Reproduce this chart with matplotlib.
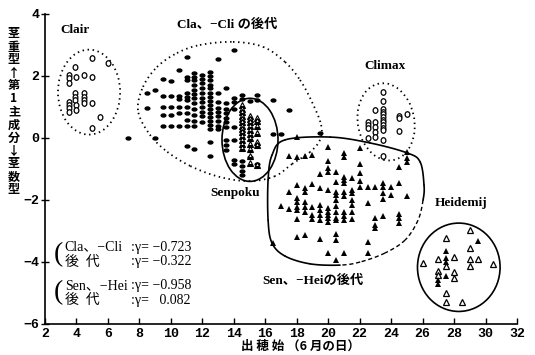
import numpy as np
import matplotlib.pyplot as plt
from matplotlib.patches import Ellipse
from matplotlib.path import Path
from matplotlib.transforms import Affine2D

plt.rcParams['font.family'] = ['Liberation Serif', 'Noto Sans CJK JP', 'DejaVu Sans']
CJK = ['Noto Sans CJK JP', 'DejaVu Sans']

# ---- data (x: heading date in June, y: PC1 score) ----
clair_x = [5.0, 6.0, 3.9, 3.5, 3.5, 4.0, 4.5, 5.0, 3.5, 3.9, 3.9, 3.9, 4.5, 4.5, 4.5,
           4.5, 3.5, 3.5, 3.5, 3.5, 4.0, 4.0, 5.0, 5.5, 5.0]
clair_y = [2.57, 2.41, 2.3, 2.03, 1.94, 1.98, 2.03, 1.98, 1.76, 1.44, 1.33, 1.23, 1.44, 1.33, 1.23,
           1.13, 1.17, 1.06, 0.96, 0.85, 1.06, 0.9, 1.14, 0.69, 0.31]

climax_x = [22.5] * 4 + [23.0] * 5 + [23.5] * 13 + [24.5] * 3 + [25.0]
climax_y = [0.51, 0.42, 0.33, -0.01,
            0.91, 0.53, 0.36, 0.2, 0.04,
            1.47, 1.19, 0.94, 0.85, 0.76, 0.68, 0.59, 0.51, 0.42, 0.33, 0.25, -0.08, -0.57,
            0.72, 0.64, 0.23,
            0.76]

senpoku_x = [14.5] * 13 + [15.0] * 11 + [15.5] * 7
senpoku_y = [1.05, 0.95, 0.85, 0.72, 0.6, 0.5, 0.4, 0.28, 0.18, 0.05, -0.08, -0.2, -0.32,
             0.72, 0.6, 0.5, 0.38, 0.25, 0.12, 0.0, -0.2, -0.36, -0.58, -0.8,
             0.65, 0.55, 0.4, 0.15, -0.12, -0.22, -0.88]

clacli_cols = [7.3, 8.5, 9.0, 9.5, 10.0, 10.5, 11.0, 11.5, 12.0, 12.5, 13.0, 13.5,
               14.0, 14.5, 15.0, 15.5, 16.5, 17.0, 17.5, 19.5]
clacli_vals = [
    [0.0],
    [1.45, 0.97],
    [1.55, 0.0],
    [1.9, 1.35, 0.99, 0.74, 0.38],
    [1.85, 1.35, 0.99, 0.74, 0.38],
    [2.2, 1.35, 1.25, 0.99, 0.8, 0.38],
    [2.62, 1.98, 1.87, 1.44, 1.33, 1.23, 1.01, 0.8, 0.58, 0.38, -0.26],
    [2.09, 1.98, 1.87, 1.7, 1.55, 1.42, 1.3, 1.12, 0.92, 0.75, 0.55, 0.38, -0.37],
    [2.02, 1.9, 1.78, 1.6, 1.45, 1.3, 1.15, 1.0, 0.85, 0.7, 0.5],
    [2.12, 2.0, 1.87, 1.72, 1.6, 1.45, 1.32, 1.2, 1.05, 0.95, 0.8, 0.68, 0.55, 0.42, 0.3, -0.12, -0.58],
    [2.55, 1.45, 1.15, 0.98, 0.85, 0.7, 0.55, 0.4, 0.28],
    [1.62, 1.12, 0.95, 0.8, 0.65, 0.5, 0.35, -0.06, -0.23, -0.39],
    [2.84, 1.3, 1.15, 0.95, 0.35, -0.05, -0.7, -0.85],
    [1.4, 1.25, -0.75, -0.9, -1.05, -1.18],
    [1.2, -0.62],
    [1.38, 1.22, -0.85],
    [1.22, 0.12],
    [0.12],
    [0.9],
    [0.15],
]

senhei_x = [18.0, 20.0, 22.0, 17.5, 18.0, 18.5, 19.0, 21.0, 21.0, 20.0, 22.0, 24.5, 25.0, 25.0, 25.0,
            20.0, 20.0, 20.5, 19.5, 21.0, 21.0, 21.0, 21.5, 22.0, 22.0, 20.5, 17.5, 18.0, 18.5, 18.5,
            19.0, 19.5, 20.0, 20.5, 20.5, 21.0, 21.0, 21.5, 21.5, 22.0, 22.5, 23.0, 23.5, 23.5, 23.5,
            23.5, 24.0, 24.0, 24.5, 25.0, 17.0, 17.5, 18.0, 18.0, 18.0, 18.0, 18.0, 18.5, 18.5, 18.5,
            19.0, 19.0, 19.0, 19.5, 19.5, 19.5, 19.5, 20.0, 20.0, 20.0, 20.0, 20.0, 20.5, 20.5, 20.5,
            20.5, 20.5, 21.0, 21.0, 21.0, 21.5, 21.5, 21.5, 21.5, 22.5, 23.0, 23.5, 23.0, 23.0, 24.5,
            24.5, 24.5, 16.5, 18.0, 18.5, 19.5, 20.5, 20.5, 22.5, 20.0, 21.0, 22.5, 20.5]
senhei_y = [0.02, -0.3, -0.33, -0.58, -0.62, -0.58, -0.55, -0.49, -0.62, -0.73, -0.84, -0.95, -0.44, -0.65, -0.76,
            -0.98, -1.09, -1.09, -1.16, -1.25, -1.35, -1.46, -1.3, -1.12, -1.4, -1.43, -1.73, -1.52, -1.62, -1.73,
            -1.48, -1.62, -1.68, -1.73, -1.84, -1.75, -1.86, -1.68, -1.78, -1.59, -1.57, -1.57, -1.46, -1.59, -1.78,
            -1.98, -1.59, -1.84, -1.46, -1.87, -2.19, -2.3, -1.95, -2.05, -2.22, -2.32, -2.62, -2.05, -2.22, -2.38,
            -2.22, -2.48, -2.62, -2.15, -2.32, -2.48, -2.65, -2.27, -2.38, -2.48, -2.59, -2.7, -2.0, -2.2, -2.38,
            -2.59, -2.66, -2.38, -2.52, -2.65, -2.0, -2.17, -2.38, -2.62, -2.09, -2.59, -2.52, -2.81, -2.91, -2.45,
            -2.59, -2.73, -3.38, -3.18, -3.12, -3.27, -3.1, -3.29, -3.36, -3.7, -3.7, -3.7, -3.92]

heid_open_x = [29.0, 27.5, 29.0, 26.0, 27.0, 28.0, 29.0, 29.0, 29.5, 30.5, 27.5, 27.0, 27.0, 28.0,
               28.0, 27.5, 27.5, 28.5]
heid_open_y = [-2.97, -3.22, -3.56, -4.04, -3.9, -3.83, -3.9, -4.12, -3.9, -4.07, -4.12, -4.29, -4.42, -4.31,
               -4.53, -5.01, -5.3, -5.3]
heid_fill_x = [29.5, 27.5, 27.5, 27.5, 27.0, 27.0, 27.5]
heid_fill_y = [-3.32, -3.65, -3.86, -3.99, -4.58, -4.72, -4.44]

# group outlines
clacli_hull_x = [7.91, 8.23, 9.12, 10.39, 11.85, 13.95, 15.86, 17.26, 18.21, 18.97, 19.55, 19.48,
                 18.85, 17.7, 16.62, 15.03, 13.13, 11.22, 9.63, 8.55]
clacli_hull_y = [0.9, 1.65, 2.29, 2.74, 3.0, 3.1, 2.94, 2.45, 1.87, 1.16, 0.42, -0.06,
                 -0.45, -0.84, -1.23, -1.39, -1.26, -0.9, -0.39, 0.19]
senhei_hull_x = [17.26, 20.12, 22.66, 25.01, 25.84, 26.09, 26.03, 25.71, 24.89, 23.61, 22.03,
                 20.75, 18.85, 17.26, 16.43, 16.18, 16.18, 16.43]
senhei_hull_y = [-0.06, 0.03, -0.16, -0.48, -0.77, -1.52, -2.0, -2.65, -3.29, -3.71, -4.0,
                 -4.1, -4.06, -3.81, -3.39, -2.65, -1.35, -0.55]
senhei_dashed = [6, 7, 8, 9, 10]

x_ticks = list(range(2, 33, 2))
y_ticks = [-6, -4, -2, 0, 2, 4]


def catmull_closed(xs, ys, n=24):
    pts = np.column_stack([xs, ys])
    m = len(pts)
    t = np.linspace(0, 1, n)[:, None]
    segs = []
    for i in range(m):
        p0, p1, p2, p3 = pts[i - 1], pts[i], pts[(i + 1) % m], pts[(i + 2) % m]
        seg = 0.5 * (2 * p1 + (-p0 + p2) * t + (2 * p0 - 5 * p1 + 4 * p2 - p3) * t ** 2
                     + (-p0 + 3 * p1 - 3 * p2 + p3) * t ** 3)
        segs.append(seg)
    return segs


oval = Path.unit_circle().transformed(Affine2D().scale(1.0, 0.72))
tall_oval = Path.unit_circle().transformed(Affine2D().scale(0.85, 1.0))

fig = plt.figure(figsize=(5.35, 3.55), dpi=100)
ax = fig.add_axes([45 / 535, 1 - 324 / 355, 472 / 535, 310 / 355])
ax.set_xlim(2, 32)
ax.set_ylim(-6, 4)
for side in ['top', 'right']:
    ax.spines[side].set_visible(False)
for side in ['left', 'bottom']:
    ax.spines[side].set_linewidth(1.2)
ax.set_xticks(x_ticks)
ax.set_yticks(y_ticks)
ax.tick_params(axis='y', direction='inout', length=6, width=1, pad=1)
ax.tick_params(axis='x', direction='in', length=4, width=1, pad=3)
for lab in ax.get_xticklabels() + ax.get_yticklabels():
    lab.set_family('Liberation Mono')
    lab.set_fontsize(9.5)
    lab.set_fontweight('bold')

dotted = dict(color='black', lw=1.3, linestyle=(0, (0.8, 2.0)))

# outlines
ax.add_patch(Ellipse((4.8, 1.48), 3.95, 2.74, fill=False, **dotted))
ax.add_patch(Ellipse((23.68, 0.52), 3.66, 2.47, angle=-8, fill=False, **dotted))
ax.add_patch(Ellipse((15.03, -0.06), 3.56, 2.68, fill=False, color='black', lw=1.2))
ax.add_patch(Ellipse((28.3, -4.17), 5.25, 2.85, fill=False, color='black', lw=1.2))

for seg in catmull_closed(clacli_hull_x, clacli_hull_y):
    ax.plot(seg[:, 0], seg[:, 1], **dotted)

segs = catmull_closed(senhei_hull_x, senhei_hull_y)
for i, seg in enumerate(segs):
    if i in senhei_dashed:
        ax.plot(seg[:, 0], seg[:, 1], color='black', lw=1.0, linestyle=(0, (3, 2)))
    else:
        ax.plot(seg[:, 0], seg[:, 1], color='black', lw=1.2, solid_capstyle='round')

# points
clacli_x = [c for c, v in zip(clacli_cols, clacli_vals) for _ in v]
clacli_y = [y for v in clacli_vals for y in v]
ax.plot(clacli_x, clacli_y, linestyle='none', marker=oval, color='black', ms=4.4, mew=0)
ax.plot(clair_x, clair_y, linestyle='none', marker=tall_oval, mfc='white', mec='black',
        ms=4.0, mew=0.9)
ax.plot(climax_x, climax_y, linestyle='none', marker=tall_oval, mfc='white', mec='black',
        ms=4.0, mew=0.9)
ax.plot(senpoku_x, senpoku_y, '^', mfc='black', mec='black', fillstyle='bottom',
        mfcalt='white', ms=4.3, mew=0.8)
ax.plot(senhei_x, senhei_y, '^', color='black', ms=4.3, mew=0)
ax.plot(heid_open_x, heid_open_y, '^', mfc='white', mec='black', ms=4.4, mew=0.9)
ax.plot(heid_fill_x, heid_fill_y, '^', color='black', ms=4.4, mew=0)

# group labels
lab_kw = dict(fontsize=9.5, fontweight='bold')
ax.text(2.95, 3.4, 'Clair', **lab_kw)
ax.text(10.4, 3.55, 'Cla、−Cli の後代', **lab_kw)
ax.text(22.3, 2.23, 'Climax', **lab_kw)
ax.text(12.5, -1.87, 'Senpoku', **lab_kw)
ax.text(26.8, -2.19, 'Heidemij', **lab_kw)
ax.text(15.8, -4.71, 'Sen、−Heiの後代', **lab_kw)

# correlation block
cor_kw = dict(fontsize=10, va='center')
ax.text(2.55, -3.75, '(', fontsize=20, va='center')
ax.text(3.25, -3.52, 'Cla、−Cli', **cor_kw)
ax.text(3.25, -4.0, '後  代', **cor_kw)
ax.text(7.45, -3.52, ':γ= −0.723', **cor_kw)
ax.text(7.45, -4.0, ':γ= −0.322', **cor_kw)
ax.text(2.55, -5.0, '(', fontsize=20, va='center')
ax.text(3.25, -4.77, 'Sen、−Hei', **cor_kw)
ax.text(3.25, -5.23, '後  代', **cor_kw)
ax.text(7.45, -4.77, ':γ= −0.958', **cor_kw)
ax.text(7.45, -5.23, ':γ=   0.082', **cor_kw)

# axis titles
ylab = '\n'.join('茎重型↑第1主成分↓茎数型')
fig.text(14 / 535, 1 - 112 / 355, ylab, family=CJK, fontsize=8.7, fontweight='bold',
         ha='center', va='center', linespacing=1.0, multialignment='center')
fig.text(300 / 535, 1 - 346 / 355, '出 穂 始 （6 月の日）', family=CJK, fontsize=9,
         fontweight='bold', ha='center', va='center')

fig.savefig('out.png', dpi=100)
